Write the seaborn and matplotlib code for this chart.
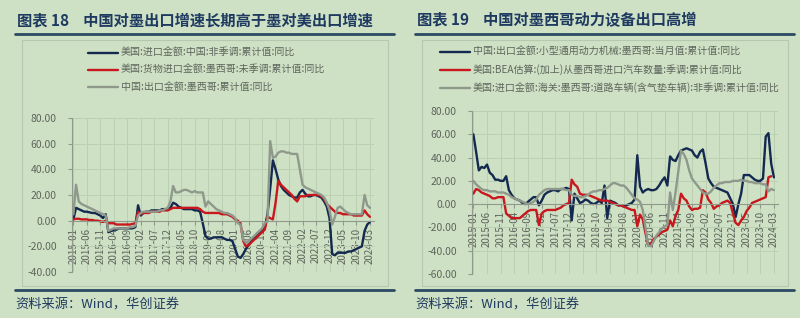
import numpy as np
import pandas as pd
import matplotlib
matplotlib.use("Agg")
import matplotlib.pyplot as plt
import seaborn as sns
from matplotlib.lines import Line2D
from matplotlib.patches import Rectangle

# ---------------- data ----------------
months = pd.date_range("2015-01-01", "2024-03-01", freq="MS")
month_labels = [d.strftime("%Y-%m") for d in months]

left_title = "图表 18    中国对墨出口增速长期高于墨对美出口增速"
right_title = "图表 19    中国对墨西哥动力设备出口高增"
source_text = "资料来源：Wind，华创证券"

left_names = ["美国:进口金额:中国:非季调:累计值:同比",
              "美国:货物进口金额:墨西哥:未季调:累计值:同比",
              "中国:出口金额:墨西哥:累计值:同比"]
right_names = ["中国:出口金额:小型通用动力机械:墨西哥:当月值:累计值:同比",
               "美国:BEA估算:(加上)从墨西哥进口汽车数量:季调:累计值:同比",
               "美国:进口金额:海关:墨西哥:道路车辆(含气垫车辆):非季调:累计值:同比"]

us_imp_china = [1, 10, 9, 8, 7, 7, 6.5, 6, 6, 5, 4, 2,
                5, -9, -8, -7, -7, -6, -6, -6, -6, -6, -6, -5,
                12, 4, 6, 7, 7, 8, 8, 8, 8, 9, 9, 9,
                10, 14, 13, 11, 10, 9, 9, 9, 9, 8, 8, 7,
                -2, -12, -14, -14, -13, -13, -13, -13, -14, -15, -15, -16,
                -22, -28, -29, -26, -22, -19, -16, -14, -12, -10, -8, -5,
                5, 25, 47, 40, 32, 27, 24, 22, 20, 19, 18, 18,
                22, 24, 21, 19, 19, 20, 20, 19, 18, 15, 11, 2,
                -26, -27, -25, -25, -25, -25, -24, -24, -23, -22, -21, -20,
                -8, -3, -1]
us_imp_mexico = [1, 1.5, 1.5, 1, 1, 1, 0.5, 0.5, 0, 0, -0.5, -1,
                 0, -2, -2, -2, -3, -3, -3, -3, -3, -3, -2.5, -2,
                 7, 5, 6, 6, 6, 7, 7, 7, 7, 8, 8, 8,
                 9, 10, 10, 10, 10, 10, 10, 10, 10, 10, 10, 9,
                 7, 6, 6, 6, 6, 6, 6, 5, 5, 5, 4, 3,
                 1, 0, -2, -16, -20, -19, -17, -15, -13, -11, -9, -7,
                 3, 2, 1, 14, 31, 28, 26, 24, 22, 20, 17, 15,
                 19, 19, 19, 20, 20, 20, 20, 20, 19, 17, 13, 11,
                 9, 7, 6, 6, 5, 5, 5, 5, 4, 4, 4, 4,
                 8, 5, 3]
cn_exp_mexico = [5, 28, 15, 13, 12, 11, 10, 9, 8, 7, 6, 5,
                 4, -8, -7, -6, -6, -6, -6, -6, -6, -5, -5, -4,
                 4, 6, 7, 7, 7, 7, 7, 7, 8, 8, 9, 10,
                 15, 27, 22, 22, 23, 24, 24, 23, 22, 23, 22, 22,
                 22, 11, 15, 13, 11, 9, 8, 7, 6, 6, 5, 4,
                 2, -2, -3, -15, -17, -16, -14, -12, -10, -8, -6, -2,
                 0, 62, 49, 50, 53, 54, 54, 53, 53, 52, 52, 52,
                 40, 28, 26, 25, 24, 23, 22, 21, 20, 18, 14, 8,
                 -3, 3, 10, 11, 9, 7, 6, 5, 5, 5, 5, 5,
                 20, 12, 10]

cn_engine_mexico = [60, 45, 29, 32, 31, 34, 27, 25, 21, 21, 20, 20,
                    24, 12, 8, 5, 4, 3, 1, 0, 2, 4, 6, 6,
                    -1, 3, 8, 10, 11, 12, 12, 11, 13, 13, 14, 13,
                    -14, 9, 5, 1, 2, 4, 3, 1, 0, 1, 3, 1,
                    16, -12, 3, 2, 1, -1, -1, -2, -1, 0, 1, 4,
                    42, 15, 10, 12, 13, 12, 12, 13, 16, 20, 23, 16,
                    41, 38, 37, 42, 46, 47, 48, 47, 46, 42, 40, 45,
                    47, 35, 22, 18, 15, 14, 13, 12, 11, 10, 5, 0,
                    -11, 0, 9, 25, 25, 25, 23, 21, 20, 20, 22, 58,
                    61, 35, 23]
us_bea_vehicle_mexico = [9, 13, 12, 10, 9, 8, 7, 5, 5, 6, 6, 6,
                         -8, -10, -12, -12, -12, -12, -10, -8, -6, -5, -5, -5,
                         -18, -8, -6, -5, -5, -5, -5, -4, -3, -1, 0, 1,
                         21, 17, 15, 9, 8, 8, 8, 7, 6, 5, 4, 3,
                         3, 3, 2, 1, 0, -1, -1, -2, -3, -4, -5, -5,
                         -19, -9, -13, -25, -35, -34, -30, -28, -26, -24, -23, -22,
                         -14, -19, -10, -5, 9, 5, 3, -2, -5, -4, -4, -3,
                         12, 10, 4, 1, -4, -2, -1, 1, 2, 3, 1, -8,
                         -16, -18, -14, -11, -6, -3, 1, 2, 3, 4, 5, 6,
                         23, 24, np.nan]
us_road_vehicle_mexico = [20, 17, 15, 13, 12, 12, 11, 11, 11, 10, 10, 10,
                          9, 8, 6, 5, 4, 3, 2, 1, 0, 1, 2, 4,
                          8, 10, 12, 13, 13, 13, 13, 13, 13, 13, 12, 12,
                          8, 7, 7, 6, 6, 7, 8, 10, 11, 11, 12, 12,
                          13, 14, 16, 18, 18, 17, 16, 16, 14, 11, 8, 5,
                          4, 2, -5, -20, -36, -36, -32, -27, -24, -21, -19, -18,
                          10, -5, 10, 28, 46, 43, 38, 29, 22, 19, 16, 13,
                          10, 9, 9, 11, 14, 16, 18, 18, 19, 19, 19, 20,
                          20, 20, 21, 20, 20, 19, 19, 18, 18, 18, 17, 17,
                          11, 13, 12]

left_series = [us_imp_china, us_imp_mexico, cn_exp_mexico]
right_series = [cn_engine_mexico, us_bea_vehicle_mexico, us_road_vehicle_mexico]
left_yticks = [-40, -20, 0, 20, 40, 60, 80]
right_yticks = [-60, -40, -20, 0, 20, 40, 60, 80]

# ---------------- style ----------------
sns.set_style("white")
plt.rcParams["font.family"] = ["Noto Sans CJK SC", "DejaVu Sans"]
BG = "#cee1c5"
GRID = "#bbcfb3"
AXC = "#8f998c"
TXT = "#5e655c"
NAVY = "#13294f"
RED = "#c8171d"
GRAY = "#8e998b"
TITLE_C = "#1f3a60"
colors = [NAVY, RED, GRAY]

fig = plt.figure(figsize=(8.0, 3.18), dpi=100, facecolor=BG)

x = np.arange(len(months))


def panel(rect, series, names, yticks, title, x0, legend_xy):
    ax = fig.add_axes(rect)
    ax.set_facecolor(BG)
    for vals, name, c in zip(series, names, colors):
        df = pd.DataFrame({"x": x, "y": vals})
        sns.lineplot(data=df, x="x", y="y", ax=ax, color=c, linewidth=1.7,
                     label=name)
    for s in ["top", "right"]:
        ax.spines[s].set_visible(False)
    ax.spines["bottom"].set_position(("data", 0))
    ax.spines["bottom"].set_color(AXC)
    ax.spines["left"].set_color(AXC)
    ax.set_xlim(-0.5, 111.5)
    ax.set_ylim(yticks[0], yticks[-1])
    ax.set_yticks(yticks)
    ax.set_yticklabels([f"{v:.2f}" for v in yticks])
    ticks = list(range(0, len(months), 5))
    ax.set_xticks(ticks)
    ax.set_xticklabels([month_labels[i] for i in ticks])
    ax.set_xlabel("")
    ax.set_ylabel("")
    ax.grid(True, color=GRID, linewidth=0.7)
    ax.set_axisbelow(True)
    ax.tick_params(axis="y", length=3, color=AXC, labelcolor=TXT,
                   labelsize=7.5, pad=8, left=True)
    ax.tick_params(axis="x", length=3, color=AXC, labelcolor=TXT,
                   labelsize=7, pad=2, bottom=True, labelrotation=90)
    leg = ax.legend(loc="upper left", bbox_to_anchor=legend_xy,
                    bbox_transform=fig.transFigure, frameon=False,
                    fontsize=7.2, handlelength=3.0, handletextpad=0.3,
                    labelspacing=0.72, borderpad=0, borderaxespad=0)
    for t in leg.get_texts():
        t.set_color(TXT)
    # title, rules, box, source
    fig.text((x0 + 17) / 800, 1 - 20 / 318, title, fontsize=11,
             fontweight="bold", color=TITLE_C, va="center", ha="left")
    fig.add_artist(Line2D([(x0 + 15) / 800, (x0 + 394) / 800],
                          [1 - 34 / 318] * 2, color="#2d4862", linewidth=2.0))
    fig.add_artist(Line2D([(x0 + 15) / 800, (x0 + 394) / 800],
                          [1 - 290 / 318] * 2, color="#2d4862", linewidth=2.0))
    fig.patches.append(Rectangle(((x0 + 22) / 800, 1 - 286 / 318),
                                 366 / 800, 246 / 318, transform=fig.transFigure,
                                 fill=False, edgecolor="#b6c9ae", linewidth=0.8))
    fig.text((x0 + 15) / 800, 1 - 305 / 318, source_text, fontsize=9.5,
             color=TITLE_C, style="italic", va="center", ha="left")
    return ax


panel([72 / 800, 46 / 318, 302 / 800, 154 / 318], left_series, left_names,
      left_yticks, left_title, 0, (88 / 800, 1 - 48 / 318))
panel([472 / 800, 44 / 318, 306 / 800, 163 / 318], right_series, right_names,
      right_yticks, right_title, 400, (440 / 800, 1 - 47 / 318))

fig.savefig("out.png", dpi=100, facecolor=BG)
